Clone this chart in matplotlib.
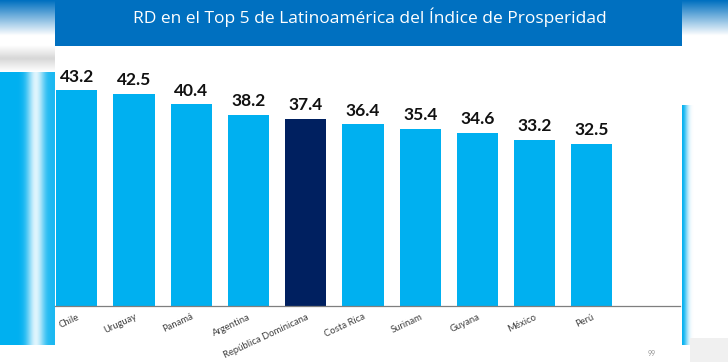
import matplotlib.pyplot as plt
import numpy as np
from matplotlib.patches import Rectangle
from matplotlib.colors import LinearSegmentedColormap

paises = ['Chile', 'Uruguay', 'Panamá', 'Argentina', 'República Dominicana',
          'Costa Rica', 'Surinam', 'Guyana', 'México', 'Perú']
valores = [43.2, 42.5, 40.4, 38.2, 37.4, 36.4, 35.4, 34.6, 33.2, 32.5]
destacado = 'República Dominicana'
titulo = 'RD en el Top 5 de Latinoamérica del Índice de Prosperidad'

azul_claro = '#00B0F0'
azul_oscuro = '#002060'
azul_banner = '#0070C0'

plt.rcParams['font.family'] = ['Lato', 'DejaVu Sans']

W, H = 728, 362
fig = plt.figure(figsize=(W / 100, H / 100), dpi=100)

# fondo borroso de la foto (fuera de la diapositiva)
bg = fig.add_axes([0, 0, 1, 1])
bg.set_xlim(0, W)
bg.set_ylim(H, 0)
bg.axis('off')

grad = np.linspace(1, 0, 40)[:, None]
cmap_top = LinearSegmentedColormap.from_list('t', ['white', azul_banner])
bg.imshow(grad, extent=(0, W, 36, 0), cmap=cmap_top, aspect='auto', zorder=0)

# lado izquierdo: barras azules borrosas
side = np.array([[0, 0, 0, 0, 0.1, 0.55, 0.95, 0.6, 0.15, 0.1]])
cmap_side = LinearSegmentedColormap.from_list('s', [azul_claro, 'white'])
bg.imshow(side, extent=(0, 55, 345, 72), cmap=cmap_side, aspect='auto',
          interpolation='bicubic', zorder=0)
blur = np.linspace(0, 1, 20)[:, None]
cmap_gray = LinearSegmentedColormap.from_list('g', ['white', '#d8d8d8'])
bg.imshow(np.vstack([blur, blur[::-1]]), extent=(0, 55, 72, 45), cmap=cmap_gray,
          aspect='auto', zorder=0)

# lado derecho: franja azul clara difuminada
right = np.array([[0.5, 0.75, 0.95, 1.0]])
bg.imshow(right, extent=(682, 694, 345, 105), cmap=cmap_side, aspect='auto',
          interpolation='bicubic', zorder=0)
bg.add_patch(Rectangle((690, 338), 38, 24, color='#f0f0f0', lw=0, zorder=0))

# diapositiva
bg.add_patch(Rectangle((55, 0), 627, H, color='white', lw=0, zorder=1))
bg.add_patch(Rectangle((55, 0), 627, 46, color=azul_banner, lw=0, zorder=2))
bg.text(370, 17, titulo, color='white', fontsize=12.5, ha='center', va='center',
        zorder=3, family=['Open Sans', 'DejaVu Sans'])
bg.text(652, 353, '99', color='#999999', fontsize=5, ha='center', va='center', zorder=3)

# grafico
ax = fig.add_axes([55 / W, (H - 306) / H, (680 - 55) / W, (306 - 50) / H])
x = np.arange(len(paises))
colores = [azul_oscuro if p == destacado else azul_claro for p in paises]
barras = ax.bar(x, valores, width=0.72, color=colores)
for b, v in zip(barras, valores):
    ax.text(b.get_x() + b.get_width() / 2, v + 1.1, f'{v:.1f}', ha='center', va='bottom',
            fontsize=12.5, fontweight='bold', color='#111111')

ax.set_xlim(-0.38, 10.54)
ax.set_ylim(0, 51.2)
ax.set_yticks([])
ax.set_xticks(x)
ax.set_xticklabels(paises, rotation=25, ha='right', rotation_mode='anchor',
                   fontsize=6.8, color='#404040')
ax.tick_params(axis='x', length=0, pad=4.5)
for s in ['top', 'right', 'left']:
    ax.spines[s].set_visible(False)
ax.spines['bottom'].set_color('#7f7f7f')
ax.spines['bottom'].set_linewidth(0.9)
ax.patch.set_alpha(0)

fig.savefig('out.png', dpi=100)
